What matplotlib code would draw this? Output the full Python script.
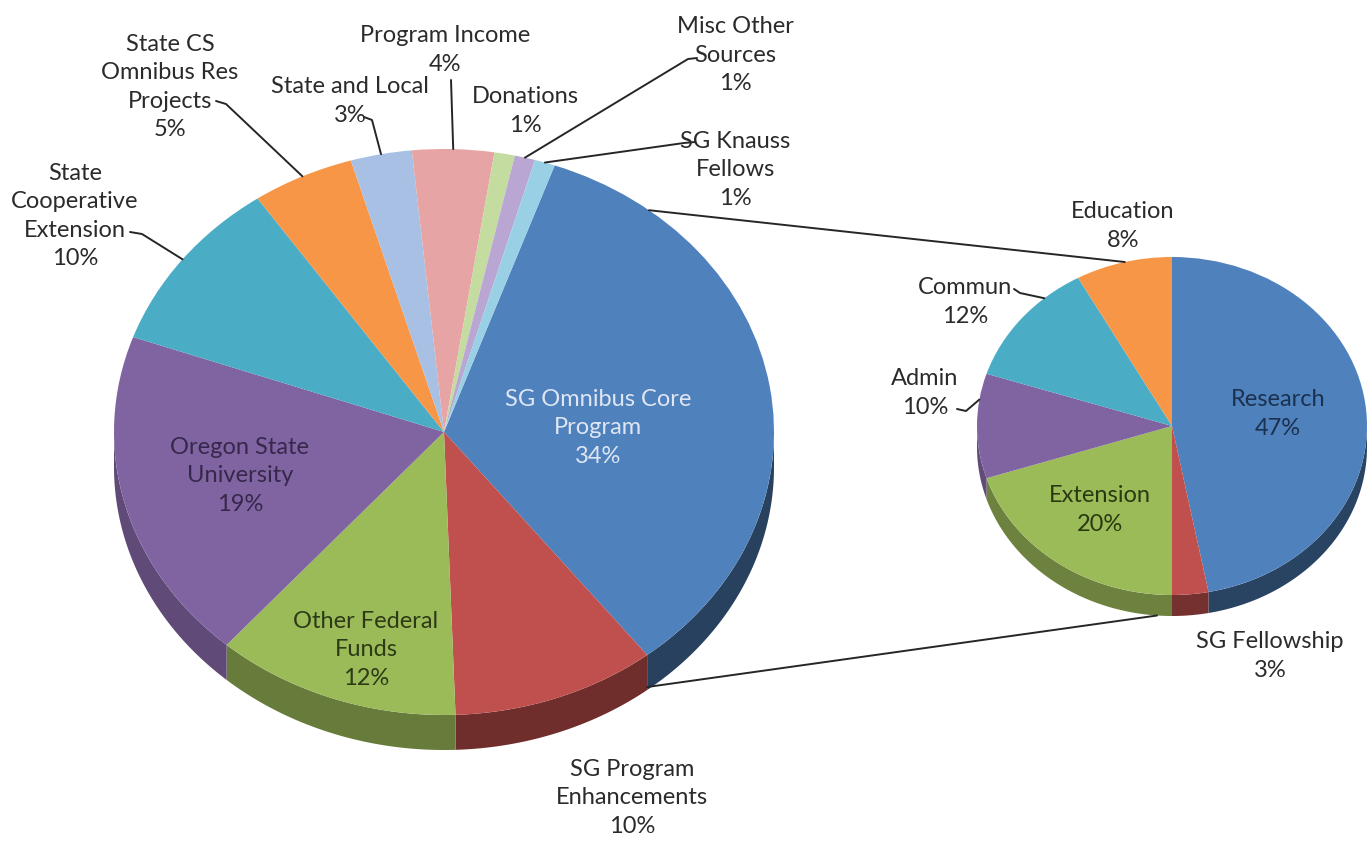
import numpy as np
import matplotlib
matplotlib.use('Agg')
import matplotlib.pyplot as plt
from matplotlib.transforms import Affine2D
from matplotlib.patches import Polygon
from matplotlib.colors import to_rgb

plt.rcParams['font.family'] = ['Lato', 'DejaVu Sans']

W, H = 1372, 844

# main pie: funding sources (%), clockwise starting with SG Omnibus
main_labels = ['SG Omnibus Core\nProgram', 'SG Program\nEnhancements', 'Other Federal\nFunds',
               'Oregon State\nUniversity', 'State\nCooperative\nExtension',
               'State CS\nOmnibus Res\nProjects', 'State and Local', 'Program Income',
               'Donations', 'Misc Other\nSources', 'SG Knauss\nFellows']
main_values = [34, 10, 12, 19, 10, 5, 3, 4, 1, 1, 1]
main_colors = ['#4f81bd', '#c0504d', '#9bbb59', '#8064a2', '#4bacc6', '#f79646',
               '#a7c0e4', '#e6a5a4', '#c4dca0', '#b9a6d3', '#99d0e6']

# second pie: breakdown of SG Omnibus Core Program (%)
sub_labels = ['Research', 'SG Fellowship', 'Extension', 'Admin', 'Commun', 'Education']
sub_values = [47, 3, 20, 10, 12, 8]
sub_colors = ['#4f81bd', '#c0504d', '#9bbb59', '#8064a2', '#4bacc6', '#f79646']


def shade(c, t):
    # darker side wall, a bit lighter toward the left
    f = 0.62 - 0.13 * np.cos(np.radians(t))
    return tuple(v * f for v in to_rgb(c))


def pie3d(ax, values, colors, cx, cy, rx, ry, depth, start):
    wedges, _ = ax.pie(values, colors=colors, startangle=start, counterclock=False,
                       wedgeprops=dict(linewidth=0))
    tr = Affine2D().scale(rx, ry).translate(cx, cy) + ax.transData
    for w, c in zip(wedges, colors):
        w.set_transform(tr)
        w.set_zorder(3)
        t1, t2 = w.theta1, w.theta2
        for lo, hi in [(-540, -360), (-180, 0), (180, 360), (540, 720)]:
            a, b = max(t1, lo), min(t2, hi)
            if b <= a:
                continue
            t = np.radians(np.linspace(a, b, 80))
            x = cx + rx * np.cos(t)
            y = cy + ry * np.sin(t)
            pts = np.r_[np.c_[x, y], np.c_[x, y - depth][::-1]]
            ax.add_patch(Polygon(pts, closed=True, fc=shade(c, (a + b) / 2),
                                 ec='none', zorder=2))
    return wedges


def on_edge(w, cx, cy, rx, ry, frac=0.5, drop=0):
    t = np.radians(w.theta2 - frac * (w.theta2 - w.theta1))
    return cx + rx * np.cos(t), cy + ry * np.sin(t) - drop


def cw_point(cx, cy, rx, ry, ang, drop=0):
    a = np.radians(ang)
    return cx + rx * np.sin(a), cy + ry * np.cos(a) - drop


fig = plt.figure(figsize=(W / 100, H / 100), dpi=100)
ax = fig.add_axes([0, 0, 1, 1])

# geometry in pixels (y up)
M = dict(cx=444, cy=H - 432, rx=330, ry=283)
M_depth = 35
S = dict(cx=1172, cy=H - 426, rx=195, ry=169)
S_depth = 21

main_w = pie3d(ax, main_values, main_colors, depth=M_depth, start=70.4, **M)
sub_w = pie3d(ax, sub_values, sub_colors, depth=S_depth, start=90, **S)

ax.set_aspect('auto')
ax.set_xlim(0, W)
ax.set_ylim(0, H)
ax.axis('off')

txt = dict(ha='center', va='center', multialignment='center', fontsize=17,
           linespacing=1.45, zorder=5)
dark = '#2b2b2b'

main_pos = [(598, 428), (632, 798), (366, 650), (240, 476), (75, 216), (170, 87),
            (350, 101), (445, 50), (525, 111), (735, 55), (735, 170)]
main_tc = ['#dfe6f3', dark, '#2e3a16', '#36284b', dark, dark, dark, dark, dark, dark, dark]
for lab, v, (x, y), c in zip(main_labels, main_values, main_pos, main_tc):
    ax.text(x, H - y, f'{lab}\n{v}%', color=c, **txt)

sub_pos = [(1278, 414), (1270, 656), (1100, 510), (925, 393), (965, 302), (1123, 226)]
sub_tc = ['#1b3150', dark, '#2b3910', dark, dark, dark]
for lab, v, (x, y), c in zip(sub_labels, sub_values, sub_pos, sub_tc):
    ax.text(x, H - y, f'{lab}\n{v}%', color=c, **txt)

line = dict(color='#262626', lw=1.4, zorder=4, solid_capstyle='round')

# leader lines: (wedge, fraction across slice, label side points)
leaders = [
    (main_w[4], 0.5, [(130, 232), (142, 234)], M),
    (main_w[5], 0.5, [(216, 101), (226, 104)], M),
    (main_w[6], 0.5, [(364, 117), (372, 120)], M),
    (main_w[7], 0.5, [(451, 80)], M),
    (main_w[9], 0.5, [(697, 58), (688, 59)], M),
    (main_w[10], 0.5, [(695, 142), (684, 143)], M),
    (sub_w[4], 0.72, [(1014, 289), (1020, 293)], S),
    (sub_w[3], 0.75, [(957, 409), (966, 411)], S),
]
for w, f, pts, g in leaders:
    ex, ey = on_edge(w, frac=f, **g)
    xs = [p[0] for p in pts] + [ex]
    ys = [H - p[1] for p in pts] + [ey]
    ax.plot(xs, ys, **line)

# connector lines between the two pies
p1 = cw_point(ang=38.4, **M)
q1 = cw_point(ang=-14, **S)
p2 = cw_point(ang=142, drop=M_depth - 3, **M)
q2 = cw_point(ang=184.4, drop=S_depth, **S)
ax.plot([p1[0], q1[0]], [p1[1], q1[1]], **line)
ax.plot([p2[0], q2[0]], [p2[1], q2[1]], **line)

fig.savefig('out.png', dpi=100, facecolor='white')
